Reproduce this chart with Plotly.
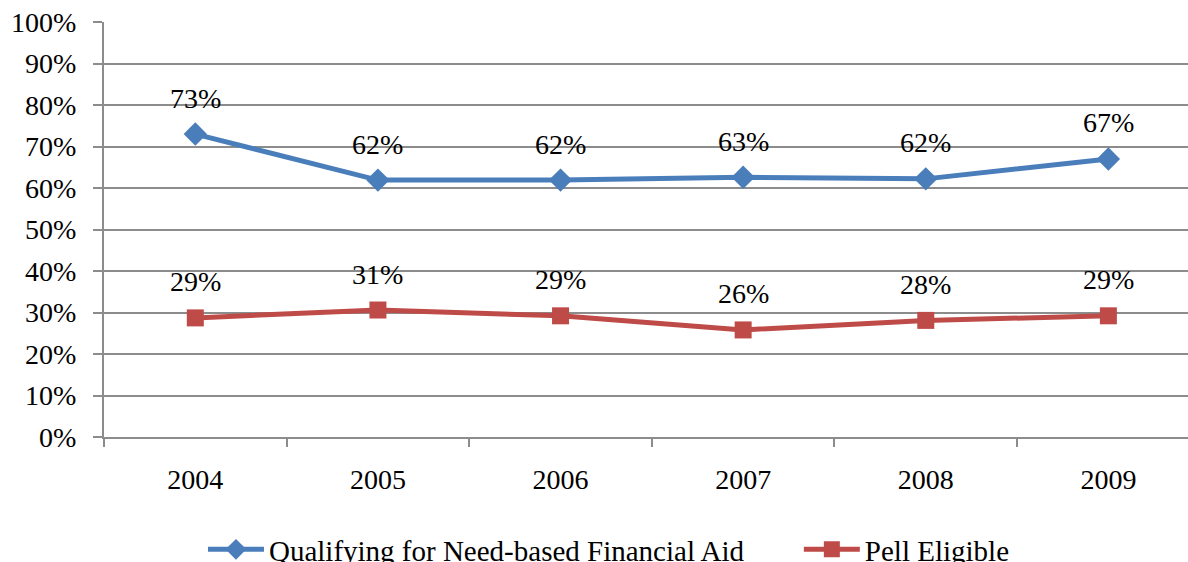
import plotly.graph_objects as go

years = ["2004", "2005", "2006", "2007", "2008", "2009"]
need_based = [0.73, 0.619, 0.619, 0.626, 0.622, 0.67]
pell = [0.287, 0.306, 0.292, 0.258, 0.281, 0.292]
y_ticks = [i / 10 for i in range(11)]
y_tick_text = [f"{i*10}%" for i in range(11)]

BLUE = "#4A7EBB"
RED = "#BE4B48"
FONT = "Liberation Serif"
GRID = "#8C8C8C"
FS = 28
LEG_FS = 29
LEG_Y = -0.271

fig = go.Figure()
fig.add_trace(go.Scatter(
    x=years, y=need_based, mode="lines+markers",
    name="Qualifying for Need-based Financial Aid",
    line=dict(color=BLUE, width=5),
    marker=dict(symbol="diamond", size=18, color=BLUE),
    legend="legend",
))
fig.add_trace(go.Scatter(
    x=years, y=pell, mode="lines+markers",
    name="Pell Eligible",
    line=dict(color=RED, width=5),
    marker=dict(symbol="square", size=17, color=RED),
    legend="legend2",
))

annotations = []
for series in (need_based, pell):
    for i, y in enumerate(series):
        annotations.append(dict(
            x=i, y=y, xref="x", yref="y", text=f"{round(y*100)}%",
            showarrow=False, yshift=36,
            font=dict(family=FONT, size=FS, color="black"),
        ))

legend_common = dict(orientation="h", xanchor="left", y=LEG_Y, yanchor="middle",
                     font=dict(family=FONT, size=LEG_FS, color="black"), itemwidth=56,
                     bgcolor="rgba(0,0,0,0)")

fig.update_layout(
    width=1188, height=562,
    margin=dict(l=104, r=0, t=22, b=125, autoexpand=False),
    paper_bgcolor="white", plot_bgcolor="white",
    font=dict(family=FONT, size=FS, color="black"),
    showlegend=True,
    legend=dict(x=0.0913, **legend_common),
    legend2=dict(x=0.641, **legend_common),
    annotations=annotations,
)
fig.update_xaxes(
    type="category", range=[-0.5, 5.436],
    showgrid=False, showline=True, linecolor=GRID, linewidth=2,
    ticks="outside", tickson="boundaries", ticklen=8, tickcolor=GRID, tickwidth=2,
    ticklabelstandoff=16,
    tickfont=dict(family=FONT, size=FS, color="black"),
)
fig.update_yaxes(
    range=[0, 1.0], tickvals=y_ticks, ticktext=y_tick_text,
    showgrid=True, gridcolor=GRID, gridwidth=2,
    showline=True, linecolor=GRID, linewidth=2,
    ticks="outside", ticklen=9, tickcolor=GRID, tickwidth=2,
    ticklabelstandoff=11, zeroline=False,
    tickfont=dict(family=FONT, size=FS, color="black"),
)

fig.write_html("out.html")
